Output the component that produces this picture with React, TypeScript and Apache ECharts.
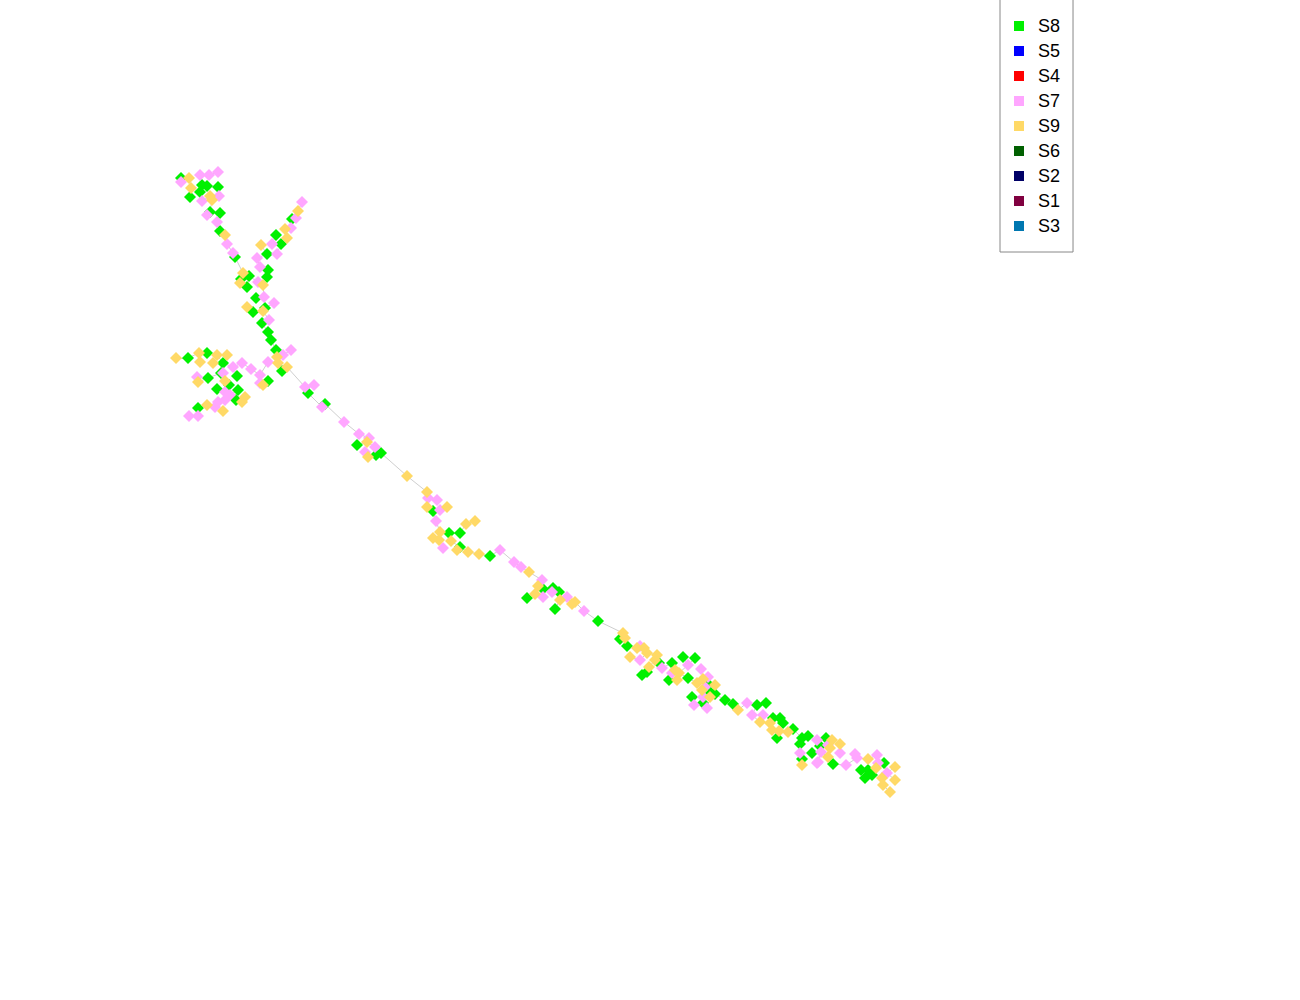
import React, { useEffect, useRef } from "react";
import * as echarts from "echarts";

const seriesNames = ["S8", "S5", "S4", "S7", "S9", "S6", "S2", "S1", "S3"];
const seriesColors = ["#00f000", "#0000ff", "#ff0000", "#ffa6ff", "#ffd966", "#006000", "#000066", "#800040", "#0077b0"];

const nodesS8: number[][] = [
  [181, 178], [202, 185], [207, 186], [200, 192], [218, 187], [190, 197], [210, 212], [220, 213], [220, 231], [235, 257],
  [292, 219], [276, 235], [281, 244], [267, 254], [268, 270], [267, 277],
  [249, 276], [241, 279], [247, 287], [256, 298], [253, 312], [265, 308], [262, 323], [268, 332], [271, 340], [276, 350],
  [282, 371], [308, 393],
  [188, 358], [207, 353], [223, 363], [208, 378], [221, 373], [237, 376], [229, 385], [268, 381], [217, 389], [238, 390], [236, 400], [198, 408],
  [325, 404], [357, 445], [376, 455], [381, 453],
  [433, 511], [449, 533], [460, 533], [460, 547], [490, 556],
  [543, 589], [553, 588], [559, 592], [527, 598], [555, 609], [598, 621],
  [620, 639], [627, 646], [659, 663], [647, 672], [642, 675], [672, 663], [683, 657], [695, 658], [669, 680], [688, 678],
  [707, 683], [710, 692], [715, 694], [692, 697], [703, 703], [725, 700],
  [733, 704], [757, 705], [766, 703], [773, 718], [780, 718], [783, 723], [793, 729], [777, 738], [800, 744], [808, 736],
  [802, 738], [812, 753], [820, 746], [826, 738], [833, 764], [802, 759],
  [861, 770], [868, 770], [865, 778], [872, 775], [884, 763],
];

const nodesS7: number[][] = [
  [181, 182], [200, 175], [209, 175], [218, 172], [202, 201], [219, 196], [207, 215], [217, 222], [227, 244], [233, 253],
  [302, 202], [296, 218], [291, 228], [272, 244], [257, 258], [277, 254], [260, 267],
  [258, 282], [264, 297], [274, 303], [269, 320], [291, 350], [283, 355], [268, 362], [305, 387],
  [242, 363], [233, 367], [251, 369], [260, 375], [197, 377], [223, 373], [260, 383], [225, 392], [230, 395], [218, 402],
  [215, 407], [225, 400], [189, 416], [198, 416],
  [314, 385], [322, 407], [344, 422], [359, 434], [369, 438], [365, 452], [375, 447],
  [428, 498], [437, 500], [440, 510], [436, 521], [443, 548], [500, 550],
  [514, 562], [521, 567], [542, 580], [552, 592], [543, 597], [567, 597], [584, 611],
  [640, 646], [640, 660], [662, 668], [688, 665], [701, 669], [708, 677], [705, 687], [694, 705], [707, 708], [703, 697], [672, 673],
  [747, 703], [752, 715], [763, 715], [817, 740], [821, 752], [818, 762], [800, 753], [828, 745], [817, 763],
  [840, 753], [846, 765], [855, 754], [857, 758], [877, 755], [878, 763], [887, 773],
];

const nodesS9: number[][] = [
  [189, 178], [191, 188], [210, 196], [212, 200], [225, 235],
  [298, 211], [285, 229], [287, 238], [261, 245],
  [243, 273], [240, 283], [263, 285], [247, 307], [263, 311],
  [277, 357], [278, 363], [287, 367],
  [176, 358], [199, 353], [200, 362], [217, 355], [213, 363], [227, 355], [198, 382], [225, 381], [263, 385], [245, 397],
  [242, 402], [207, 405], [223, 411],
  [367, 442], [368, 457], [407, 476], [427, 492], [427, 507], [447, 507], [466, 524], [475, 521], [433, 538], [440, 532],
  [439, 540], [451, 541], [457, 550], [468, 552], [479, 554],
  [529, 572], [538, 586], [535, 594], [560, 600], [575, 602], [572, 604],
  [623, 633], [625, 638], [637, 648], [644, 648], [630, 657], [647, 653], [657, 655], [655, 660], [649, 667], [675, 670],
  [679, 673], [677, 680], [697, 683], [703, 679], [715, 685], [710, 697], [738, 710], [702, 690],
  [760, 722], [770, 723], [772, 730], [779, 731], [788, 732], [832, 740], [830, 748], [802, 765], [828, 757], [840, 744],
  [868, 759], [895, 767], [876, 768], [882, 778], [883, 785], [895, 780], [890, 792],
];

const seriesNodes: number[][][] = [nodesS8, [], [], nodesS7, nodesS9, [], [], [], []];

// connect every node to the tree through its nearest neighbour (Prim)
function treeEdges(pts: number[][]): number[][][] {
  const n = pts.length;
  const inTree = new Array(n).fill(false);
  const best = new Array(n).fill(Infinity);
  const parent = new Array(n).fill(-1);
  const edges: number[][][] = [];
  best[0] = 0;
  for (let k = 0; k < n; k++) {
    let u = -1;
    for (let i = 0; i < n; i++) if (!inTree[i] && (u < 0 || best[i] < best[u])) u = i;
    inTree[u] = true;
    if (parent[u] >= 0) edges.push([pts[parent[u]], pts[u]]);
    for (let v = 0; v < n; v++) {
      if (inTree[v]) continue;
      const dx = pts[u][0] - pts[v][0];
      const dy = pts[u][1] - pts[v][1];
      const d = dx * dx + dy * dy;
      if (d < best[v]) { best[v] = d; parent[v] = u; }
    }
  }
  return edges;
}

export default function App() {
  const ref = useRef<HTMLDivElement>(null);
  useEffect(() => {
    if (!ref.current) return;
    const chart = echarts.init(ref.current, undefined, { renderer: "svg" });
    const all = [...nodesS8, ...nodesS7, ...nodesS9];
    const edges = treeEdges(all);
    const scatter = seriesNames.map((name, i) => ({
      name,
      type: "scatter",
      symbol: "diamond",
      symbolSize: 12,
      itemStyle: { color: seriesColors[i], opacity: 1 },
      data: seriesNodes[i],
      z: 3,
      emphasis: { disabled: true },
    }));
    chart.setOption({
      animation: false,
      backgroundColor: "#ffffff",
      grid: { left: 0, right: 0, top: 0, bottom: 0 },
      xAxis: { type: "value", min: 0, max: 1300, show: false },
      yAxis: { type: "value", min: 0, max: 1000, inverse: true, show: false },
      legend: {
        data: seriesNames.map((n) => ({ name: n, icon: "rect" })),
        orient: "vertical",
        left: 1000,
        top: -1,
        padding: [18, 13, 17, 14],
        itemWidth: 10,
        itemHeight: 10,
        itemGap: 7,
        borderColor: "#888888",
        borderWidth: 1,
        backgroundColor: "#ffffff",
        selectedMode: false,
        textStyle: {
          fontSize: 18,
          fontFamily: "Liberation Sans, Arial, sans-serif",
          color: "#000000",
          padding: [0, 0, 0, 9],
        },
      },
      series: [
        {
          type: "lines",
          coordinateSystem: "cartesian2d",
          silent: true,
          z: 1,
          lineStyle: { color: "#cfcfcf", width: 1, opacity: 1 },
          data: edges.map((e) => ({ coords: e })),
        },
        ...scatter,
      ],
    });
    return () => chart.dispose();
  }, []);
  return <div ref={ref} style={{ position: "fixed", left: 0, top: 0, width: 1300, height: 1000 }} />;
}
